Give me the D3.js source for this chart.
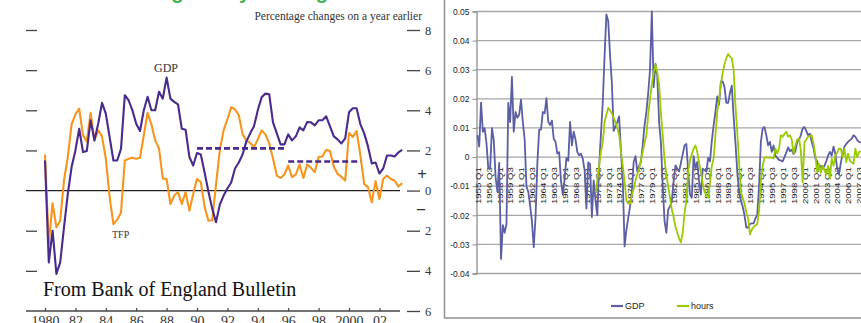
<!DOCTYPE html>
<html>
<head>
<meta charset="utf-8">
<script src="https://cdn.jsdelivr.net/npm/d3@7"></script>
<style>
  body { margin: 0; background: #fff; }
  svg { display: block; }
</style>
</head>
<body>
<svg id="chart" width="861" height="323"></svg>
<script>
// ---------------- Left panel: GDP and TFP, % change on a year earlier ----------------
const boeFirstYear = 1980;            // first quarter of both series is 1980 Q1
const boeGDP = [
  1.5, -3.58, -2.0, -4.15, -3.58, -1.83, -0.17, 1.17, 2.0, 3.08,
  1.92, 1.97, 3.5, 2.5, 3.33, 4.37, 3.83, 2.67, 1.5, 1.5,
  2.08, 4.75, 4.5, 4.0, 3.33, 2.97, 4.0, 4.67, 4.0, 4.0,
  4.92, 4.58, 5.63, 4.58, 4.42, 4.3, 3.08, 3.03, 1.67, 1.25,
  1.87, 1.8, 0.9, -0.05, -0.9, -1.58, -0.7, -0.25, 0.1, 0.4,
  1.1, 1.4, 1.8, 2.45, 2.85, 3.2, 4.0, 4.65, 4.83, 4.8,
  3.4, 2.85, 2.3, 2.3, 2.8, 2.5, 2.7, 3.15, 3.0, 3.42,
  3.4, 3.25, 3.5, 3.5, 3.7, 3.2, 2.7, 2.55, 2.35, 2.6,
  3.9, 4.1, 4.1, 3.3, 2.85, 2.2, 1.35, 1.4, 0.85, 1.1,
  1.75, 1.75, 1.7, 1.9, 2.03
];
const boeTFP = [
  1.8, -2.67, -0.63, -1.83, -1.5, 0.5, 1.67, 3.3, 3.8, 4.08,
  2.75, 2.45, 3.87, 2.5, 3.0, 2.7, 1.6, -0.3, -1.67, -1.45,
  -1.1, 1.5, 1.58, 1.63, 1.58, 1.63, 2.75, 3.87, 3.3, 2.5,
  2.1, 0.6, 0.58, -0.67, -0.25, -0.08, -0.67, -0.08, -1.0, -0.17,
  0.58, 0.42, -0.8, -1.5, -1.48, 0.3, 2.0, 3.0, 3.55, 4.15,
  4.05, 3.75, 2.8, 2.5, 2.37, 2.17, 2.55, 3.0, 2.8, 2.35,
  1.6, 0.75, 0.63, 0.8, 1.25, 0.67, 0.8, 1.3, 0.63, 1.3,
  1.13, 0.92, 1.67, 1.7, 2.03, 1.97, 1.2, 0.83, 0.68, 0.5,
  2.87, 2.67, 2.97, 1.75, 0.33, 0.17, -0.58, 0.47, -0.42, 0.58,
  0.75, 0.58, 0.5, 0.2, 0.37
];
// Average GDP growth over two periods (dashed)
const avgFrom  = [1990, 1996];
const avgTo    = [1995.75, 2000.75];
const avgValue = [2.1, 1.45];

const boeYTicks      = [8, 6, 4, 2, 0, -2, -4, -6];
const boeYTickLabels = ["8", "6", "4", "2", "0", "2", "4", "6"];
const boeXTicks      = [1980, 1982, 1984, 1986, 1988, 1990, 1992, 1994, 1996, 1998, 2000, 2002];
const boeXTickLabels = ["1980", "82", "84", "86", "88", "90", "92", "94", "96", "98", "2000", "02"];

// ---------------- Right panel: GDP and hours, quarterly deviations ----------------
const ukFirstYear = 1955;             // categories run quarterly from 1955 Q1
const ukCategoryCount = 214;
const ukGDP = [
  .0075, .0036, .0187, .0087, .0099, .0047, -.0039, -.004, .0099, .0059,
  -.0068, -.012, -.002, -.035, -.0234, -.026, -.023, .0186, .012, .0275,
  .0087, .0155, .0135, .0145, .0197, .012, .006, -.01, -.012, -.0166,
  -.022, -.031, -.0207, -.002, .0094, .0094, .0155, .015, .0202, .0121,
  .011, .0125, .0063, .0052, .0012, .0017, -.0083, -.0129, -.0075, -.0003,
  -.0013, .0121, .004, .0087, .006, .0017, .0006, .0012, -.0006, -.0046,
  -.0177, -.0018, -.0025, -.0206, -.008, -.015, -.02, -.003, .008, .019,
  .035, .049, .0467, .035, .0255, .009, .0105, .012, .014, .002,
  -.008, -.0307, -.025, -.021, -.017, -.012, -.0017, .0003, -.005, -.003,
  -.0017, .0043, .011, .0155, .022, .03, .05, .024, .032, .0277,
  .012, .005, -.01, -.022, -.026, -.018, -.017, -.015, -.0083, -.0029,
  -.004, -.005, -.002, .001, .004, .0045, -.005, -.0129, -.014, .0003,
  -.004, -.0017, -.0083, -.0129, -.004, -.0045, -.005, -.0003, -.0015, .0055,
  .0109, .0155, .0208, .018, .026, .026, .024, .0186, .0186, .022,
  .0245, .014, .005, -.005, -.012, -.015, -.017, -.02, -.0242, -.0242,
  -.023, -.0228, -.0228, -.021, -.02, -.01, .0052, .0098, .0103, .0075,
  .004, .0052, .0018, .004, .0005, -.0003, -.001, -.0012, -.0015, .0,
  .0016, .0033, .002, .0025, .001, .002, .0052, .006, .0075, .0098,
  .0103, .009, .0075, .008, .0052, .003, -.0005, -.0015, -.004, -.003,
  -.004, -.003, -.0015, .0005, .0018, .0005, .0036, .001, -.004, -.006,
  -.002, .001, .0036, .0045, .0052, .0058, .0063, .0075, .007, .0058,
  .0052, .005
];
const ukHoursFirstIndex = 65;         // hours series starts in 1971 Q2
const ukHours = [
  -.012, -.008, -.003, .002, .0052,
  .0121, .0145, .0169, .016, .015, .0135, .012, .01, .0075, .002,
  -.003, -.0083, -.015, -.016, -.016, -.013, -.011, -.008, -.006, -.004,
  -.001, .0018, .005, .0075, .0146, .02, .025, .029, .0317, .029,
  .025, .015, .0075, -.001, -.006, -.01, -.014, -.018, -.0207, -.024,
  -.026, -.028, -.0293, -.026, -.0193, -.015, -.005, -.001, .001, .0029,
  .004, .0017, -.002, -.005, -.009, -.012, -.013, -.014, -.009, -.003,
  -.0006, .0075, .0155, .02, .025, .029, .032, .034, .0354, .0345,
  .034, .03, .0178, .0087, -.0017, -.012, -.014, -.016, -.019, -.021,
  -.0266, -.025, -.024, -.0235, -.023, -.0186, -.008, -.003, -.0003, .0,
  -.0002, -.0001, -.0003, -.0005, .0029, .0012, .0029, .0075, .007, .008,
  .0087, .007, .0075, .006, .0012, .004, .006, .0064, .0023, -.0087,
  .005, .006, .007, .0072, .0075, .0046, .0006, -.0054, -.0023, -.0054,
  -.003, -.0045, -.006, -.003, -.0075, -.0006, -.003, .0006, .0015, .0029,
  .0029, .0, .0029, -.0017, .0012, -.0012, -.0018, -.0023, .0029, .0,
  .0017, .002
];
const ukYTicks = [0.05, 0.04, 0.03, 0.02, 0.01, 0, -0.01, -0.02, -0.03, -0.04];
const ukLabelEvery = 6;
const ukSeriesNames = ["GDP", "hours"];

// ------------------------------------------------------------------------------------
const svg = d3.select("#chart");
const serif = "'Liberation Serif', 'DejaVu Serif', serif";
const sans = "'Liberation Sans', Arial, sans-serif";
const narrow = "'Liberation Sans Narrow', 'Liberation Sans', Arial, sans-serif";

// Clipped heading of the page above the left panel
svg.append("text")
  .attr("x", 119).attr("y", -1.5)
  .attr("font-family", sans).attr("font-weight", "bold").attr("font-size", 20)
  .attr("fill", "#3bb54a")
  .text("Falling hourly earnings");

// ---- Left panel ----
const lx = d3.scaleLinear().domain([1980, 2002]).range([45, 379.4]);
const ly = d3.scaleLinear().domain([-6, 8]).range([311, 30]);
const left = svg.append("g");

// left-hand tick dashes
left.append("g")
  .attr("transform", "translate(37,0)")
  .call(d3.axisLeft(ly).tickValues(boeYTicks.filter(v => v !== 0 && v !== -6)).tickSize(11).tickFormat(""))
  .call(g => g.select(".domain").remove())
  .call(g => g.selectAll("line").attr("stroke", "#444").attr("stroke-width", 1.3));

// right-hand ticks and labels
left.append("g")
  .attr("transform", "translate(407,0)")
  .call(d3.axisRight(ly).tickValues(boeYTicks).tickSize(13).tickPadding(5)
    .tickFormat((d, i) => boeYTickLabels[i]))
  .call(g => g.select(".domain").remove())
  .call(g => g.selectAll("line").attr("stroke", "#444").attr("stroke-width", 1.3))
  .call(g => g.selectAll("text").attr("font-family", serif).attr("font-size", 12.5).attr("fill", "#333"));

// zero line and base line
left.append("line").attr("x1", 26).attr("x2", 400).attr("y1", ly(0)).attr("y2", ly(0))
  .attr("stroke", "#222").attr("stroke-width", 1.2);
left.append("line").attr("x1", 26).attr("x2", 400).attr("y1", ly(-6)).attr("y2", ly(-6))
  .attr("stroke", "#444").attr("stroke-width", 1.3);

// bottom year axis
left.append("g")
  .attr("transform", `translate(0,${ly(-6)})`)
  .call(d3.axisBottom(lx).tickValues(boeXTicks).tickSize(-3).tickPadding(5)
    .tickFormat((d, i) => boeXTickLabels[i]))
  .call(g => g.select(".domain").remove())
  .call(g => g.selectAll("line").attr("stroke", "#444").attr("stroke-width", 1.2))
  .call(g => g.selectAll("text").attr("font-family", serif).attr("font-size", 14).attr("fill", "#333"));

// +/- signs
left.append("text").attr("x", 422).attr("y", 180).attr("text-anchor", "middle")
  .attr("font-family", serif).attr("font-size", 17).attr("font-weight", "bold").attr("fill", "#333").text("+");
left.append("text").attr("x", 421).attr("y", 214).attr("text-anchor", "middle")
  .attr("font-family", serif).attr("font-size", 16).attr("font-weight", "bold").attr("fill", "#333").text("–");

// series
const qYear = i => boeFirstYear + i / 4;
const lline = d3.line().x((d, i) => lx(qYear(i))).y(d => ly(d));
left.append("path").datum(boeTFP).attr("d", lline)
  .attr("fill", "none").attr("stroke", "#f7941d").attr("stroke-width", 2.1).attr("stroke-linejoin", "round");
left.append("path").datum(boeGDP).attr("d", lline)
  .attr("fill", "none").attr("stroke", "#4a2a8c").attr("stroke-width", 2.1).attr("stroke-linejoin", "round");

// period averages
left.selectAll("line.avg").data(avgValue).join("line").attr("class", "avg")
  .attr("x1", (d, i) => lx(avgFrom[i])).attr("x2", (d, i) => lx(avgTo[i]))
  .attr("y1", d => ly(d)).attr("y2", d => ly(d))
  .attr("stroke", "#4a2a8c").attr("stroke-width", 2.6).attr("stroke-dasharray", "6,3");

// annotations
left.append("text").attr("x", 422).attr("y", 20).attr("text-anchor", "end")
  .attr("font-family", serif).attr("font-size", 11.5).attr("fill", "#333")
  .text("Percentage changes on a year earlier");
left.append("text").attr("x", 154).attr("y", 72)
  .attr("font-family", serif).attr("font-size", 12).attr("fill", "#333").text("GDP");
left.append("text").attr("x", 112).attr("y", 238)
  .attr("font-family", serif).attr("font-size", 10).attr("fill", "#333").text("TFP");
left.append("text").attr("x", 43).attr("y", 296)
  .attr("font-family", serif).attr("font-size", 20).attr("fill", "#111")
  .text("From Bank of England Bulletin");

// ---- Right panel ----
const right = svg.append("g");
right.append("rect").attr("x", 444.5).attr("y", -2).attr("width", 440).attr("height", 320)
  .attr("fill", "#fff").attr("stroke", "#8f8f8f").attr("stroke-width", 1.5);

const categories = d3.range(ukCategoryCount).map(i =>
  `${ukFirstYear + Math.floor(i / 4)} Q${(i % 4) + 1}`);
const step = 1.817;
const rx = d3.scalePoint().domain(categories)
  .range([476.5, 476.5 + step * ukCategoryCount]).padding(0.5);
const ry = d3.scaleLinear().domain([-0.04, 0.05]).range([273.5, 11.5]);

// gridlines
right.selectAll("line.grid").data(ukYTicks).join("line").attr("class", "grid")
  .attr("x1", 476.5).attr("x2", 880)
  .attr("y1", d => ry(d)).attr("y2", d => ry(d))
  .attr("stroke", "#a6a6a6").attr("stroke-width", 1.3);

// value axis
right.append("g")
  .attr("transform", "translate(476.5,0)")
  .call(d3.axisLeft(ry).tickValues(ukYTicks).tickSize(4).tickPadding(3)
    .tickFormat(d => d === 0 ? "0" : d3.format(".2f")(d).replace("−", "-")))
  .call(g => g.select(".domain").attr("stroke", "#8f8f8f").attr("stroke-width", 1.3))
  .call(g => g.selectAll("line").attr("stroke", "#8f8f8f"))
  .call(g => g.selectAll("text").attr("font-family", sans).attr("font-size", 8.5).attr("fill", "#222"));

// category axis (labels rotated, hanging below the zero line)
right.append("g")
  .attr("transform", `translate(0,${ry(0)})`)
  .call(d3.axisBottom(rx).tickValues(categories.filter((c, i) => i % ukLabelEvery === 0 && i < 212))
    .tickSize(0))
  .call(g => g.select(".domain").remove())
  .call(g => g.selectAll("text")
    .attr("transform", "rotate(-90) scale(1.2,1)")
    .attr("text-anchor", "end")
    .attr("x", -8.5).attr("y", 0).attr("dy", "0.35em")
    .attr("font-family", sans).attr("font-size", 8).attr("fill", "#222"));

// series
const gdpLine = d3.line().x((d, i) => rx(categories[i])).y(d => ry(d));
const hoursLine = d3.line().x((d, i) => rx(categories[i + ukHoursFirstIndex])).y(d => ry(d));
right.append("path").datum(ukGDP).attr("d", gdpLine)
  .attr("fill", "none").attr("stroke", "#5b5ea4").attr("stroke-width", 1.8).attr("stroke-linejoin", "round");
right.append("path").datum(ukHours).attr("d", hoursLine)
  .attr("fill", "none").attr("stroke", "#99cc00").attr("stroke-width", 1.8).attr("stroke-linejoin", "round");

// legend
const legendColors = ["#5b5ea4", "#99cc00"];
const legendX = [611, 677];
const lg = right.selectAll("g.lg").data(ukSeriesNames).join("g").attr("class", "lg")
  .attr("transform", (d, i) => `translate(${legendX[i]},306)`);
lg.append("line").attr("x1", 0).attr("x2", 12).attr("y1", 0).attr("y2", 0)
  .attr("stroke", (d, i) => legendColors[i]).attr("stroke-width", 2.2);
lg.append("text").attr("x", 14).attr("y", 3).attr("font-family", narrow).attr("font-size", 9)
  .attr("fill", "#222").text(d => d);
</script>
</body>
</html>
